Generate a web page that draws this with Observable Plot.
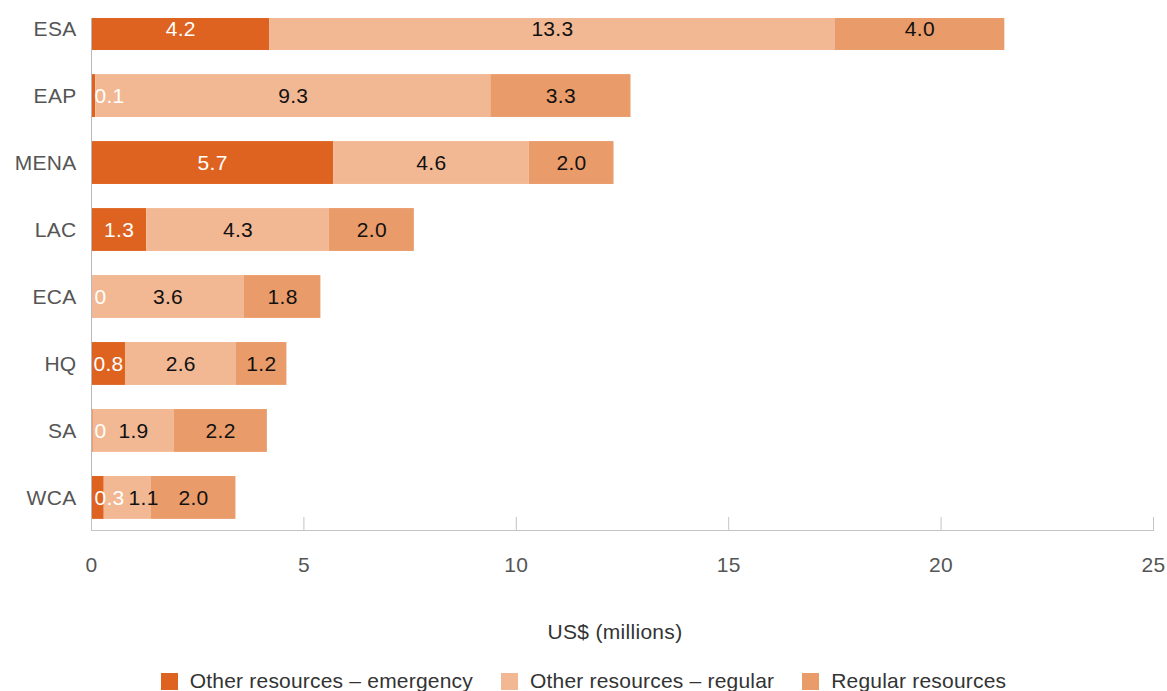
<!DOCTYPE html>
<html>
<head>
<meta charset="utf-8">
<script src="https://cdn.jsdelivr.net/npm/d3@7"></script>
<script src="https://cdn.jsdelivr.net/npm/@observablehq/plot@0.6"></script>
<style>
  html, body { margin: 0; padding: 0; background: #fff; width: 1167px; height: 691px; overflow: hidden; }
  #chart { position: absolute; left: 0; top: 0; }
  #xtitle { position: absolute; left: 465px; width: 300px; top: 620px; text-align: center; font-family: "Liberation Sans", Arial, sans-serif; font-size: 21px; letter-spacing: 0.3px; color: #333; }
  #legend { position: absolute; left: 0; top: 668px; width: 1167px; height: 26px; display: flex; justify-content: center; align-items: center; font-family: "Liberation Sans", Arial, sans-serif; font-size: 21px; letter-spacing: 0.2px; color: #333; }
  .item { display: flex; align-items: center; margin: 0 14px; }
  .sw { width: 17px; height: 17px; margin-right: 12px; }
</style>
</head>
<body>
<div id="chart"></div>
<div id="xtitle">US$ (millions)</div>
<div id="legend"></div>
<script>
const regions = ["ESA", "EAP", "MENA", "LAC", "ECA", "HQ", "SA", "WCA"];
const series = ["Other resources – emergency", "Other resources – regular", "Regular resources"];
const emergency = [4.2, 0.1, 5.7, 1.3, 0.0, 0.8, 0.04, 0.3];
const otherRegular = [13.3, 9.3, 4.6, 4.3, 3.6, 2.6, 1.9, 1.1];
const regularRes = [4.0, 3.3, 2.0, 2.0, 1.8, 1.2, 2.2, 2.0];
const xTicks = [0, 5, 10, 15, 20, 25];
const colors = ["#DF6320", "#F2B893", "#EA9B6A"];
const labelColors = ["#ffffff", "#111111", "#111111"];

const FS = 21;
const W = 1167, ML = 91, MR = 14;
const pxPerUnit = (W - ML - MR) / 25;
const fmt = v => v < 0.05 ? "0" : v.toFixed(1);
// approximate rendered label width in pixels (digits vs. dot)
const textW = s => [...s].reduce((a, c) => a + (c === "." ? 0.278 : 0.556) * FS + 0.3, 0);

const values = [emergency, otherRegular, regularRes];
const rows = [];
regions.forEach((r, i) => {
  let acc = 0;
  let prevEnd = -Infinity; // right edge of previous label, data units
  values.forEach((arr, s) => {
    const v = arr[i];
    const label = fmt(v);
    const w = textW(label) / pxPerUnit;
    const small = s === 0 && v < 0.5;
    let lx, anchor;
    if (small) {
      lx = acc; anchor = "start";
      prevEnd = acc + (4 / pxPerUnit) + w;
    } else {
      lx = Math.max(acc + v / 2, prevEnd + 3 / pxPerUnit + w / 2);
      anchor = "middle";
      prevEnd = lx + w / 2;
    }
    rows.push({region: r, series: series[s], s, value: v, x1: acc, x2: acc + v, lx, anchor, label, small});
    acc += v;
  });
});

const font = "'Liberation Sans', Arial, sans-serif";
const plot = Plot.plot({
  width: W,
  height: 600,
  marginLeft: ML,
  marginRight: MR,
  marginTop: 18,
  marginBottom: 70,
  style: {fontFamily: font, fontSize: FS + "px", background: "#fff", letterSpacing: "0.3px"},
  x: {domain: [0, 25]},
  y: {domain: regions, range: [-17, 543], padding: 0.36, round: false},
  color: {domain: series, range: colors},
  marks: [
    Plot.barX(rows, {y: "region", x1: "x1", x2: "x2", fill: "series", clip: "frame"}),
    Plot.frame({anchor: "left", stroke: "#b8b8b8", strokeOpacity: 1}),
    Plot.frame({anchor: "bottom", stroke: "#c4c4c4", strokeOpacity: 1}),
    Plot.axisX({ticks: xTicks, tickSize: -13, stroke: "#c4c4c4", strokeOpacity: 1, text: null, label: null}),
    Plot.axisX({ticks: xTicks, tickSize: 0, tickPadding: 27, tickFormat: d => String(d), fill: "#555", fontSize: FS, label: null}),
    Plot.axisY({tickSize: 0, tickPadding: 15, fill: "#555", fontSize: FS, label: null}),
    Plot.text(rows.filter(d => !d.small), {y: "region", x: "lx", text: "label",
      fill: d => labelColors[d.s], fontSize: FS}),
    Plot.text(rows.filter(d => d.small), {y: "region", x: "lx", text: "label", textAnchor: "start", dx: 3,
      fill: "#ffffff", fontSize: FS})
  ]
});
document.getElementById("chart").appendChild(plot);

const legend = document.getElementById("legend");
series.forEach((s, i) => {
  const it = document.createElement("div");
  it.className = "item";
  const sw = document.createElement("div");
  sw.className = "sw";
  sw.style.background = colors[i];
  const t = document.createElement("span");
  t.textContent = s;
  it.appendChild(sw); it.appendChild(t);
  legend.appendChild(it);
});
</script>
</body>
</html>
